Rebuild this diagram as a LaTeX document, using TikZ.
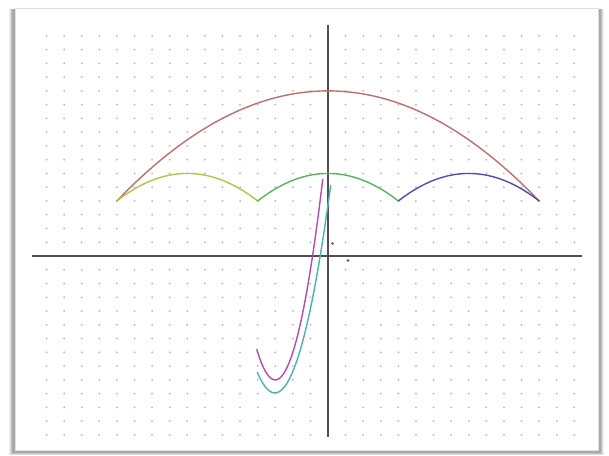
\documentclass[tikz,border=0pt]{standalone}
\definecolor{arcred}{RGB}{188,112,112}
\definecolor{arcyel}{RGB}{185,192,78}
\definecolor{arcgrn}{RGB}{92,178,92}
\definecolor{arcblu}{RGB}{78,78,176}
\definecolor{hmag}{RGB}{176,78,176}
\definecolor{hcyan}{RGB}{72,180,170}
\definecolor{dotc}{RGB}{180,180,180}
\definecolor{axisc}{RGB}{80,80,80}
\tikzset{
  curve/.style={line width=0.7pt, line join=round, line cap=round},
  axisline/.style={axisc, line width=0.6pt}
}
\begin{document}
\begin{tikzpicture}[x=0.5pt,y=-0.5pt]
\useasboundingbox (0,0) rectangle (609,455);
\fill[white] (0,0) rectangle (609,455);
% sheet shadow (left, right, bottom)
\fill[black!6] (9,9) rectangle (604,455);
\fill[black!14] (10,9) rectangle (603,455);
\fill[black!24] (11,9) rectangle (602,454);
\fill[black!34] (12,9) rectangle (601,453);
\fill[white] (15,8) rectangle (598,450);
\draw[black!12, line width=0.4pt] (15,8) rectangle (598,450);
% grid dots
\foreach \i in {-16,...,14}{
  \foreach \j in {-13,...,16}{
    \fill[dotc] ({328+17.59*\i},{256-13.76*\j}) circle (0.5pt);
  }
}
% axes
\coordinate (xl) at (32,256);
\coordinate (xr) at (582,256);
\coordinate (yt) at (328,25);
\coordinate (yb) at (328,437);
\draw[axisline] (xl) -- (xr);
\draw[axisline] (yt) -- (yb);
% tiny marks near origin
\fill[black!55] (332.5,243.5) circle (0.8pt);
\fill[black!55] (348,260.5) circle (0.8pt);
% curves in graph units
\begin{scope}[shift={(328,256)}, x=8.795pt, y=6.88pt]
  \draw[curve, arcred, domain=-12:12, samples=120] plot (\x,{12-\x*\x/18});
  \draw[curve, arcyel, domain=-12:-4, samples=60] plot (\x,{6-(\x+8)*(\x+8)/8});
  \draw[curve, arcgrn, domain=-4:4, samples=60] plot (\x,{6-(\x)*(\x)/8});
  \draw[curve, arcblu, domain=4:12, samples=60] plot (\x,{6-(\x-8)*(\x-8)/8});
  \draw[curve, hmag, domain=-4.05:-0.3, samples=80] plot (\x,{2*(\x+3)*(\x+3)-9});
  \draw[curve, hcyan, domain=-4.02:0.15, samples=80] plot (\x,{1.5*(\x+3.02)*(\x+3.02)-9.95});
\end{scope}
\end{tikzpicture}
\end{document}
